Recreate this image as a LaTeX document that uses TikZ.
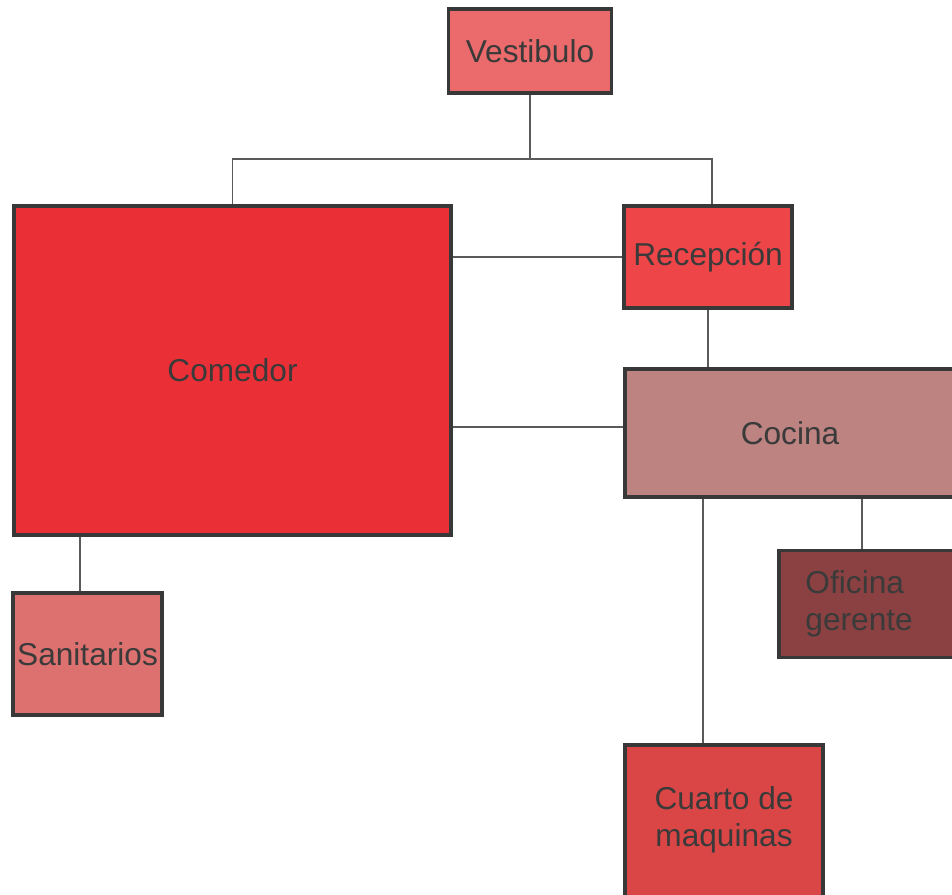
\documentclass[tikz,border=0pt]{standalone}
\usepackage{fontspec}
\setmainfont{Liberation Sans}
\usetikzlibrary{calc}
\definecolor{edge}{HTML}{383838}
\definecolor{ink}{HTML}{3A3A3A}
\definecolor{wire}{HTML}{5A5A5A}
\definecolor{cVest}{HTML}{EB6A6B}
\definecolor{cCom}{HTML}{EA3036}
\definecolor{cRec}{HTML}{EE4548}
\definecolor{cCoc}{HTML}{BC8381}
\definecolor{cOfi}{HTML}{8B4141}
\definecolor{cSan}{HTML}{DD716F}
\definecolor{cCua}{HTML}{DA4646}
\tikzset{
  room/.style={draw=edge, line width=2.5pt, rectangle, inner sep=0pt, align=center,
    text=ink, font=\fontsize{22.5}{26}\selectfont},
  link/.style={draw=wire, line width=1pt}
}
\begin{document}
\begin{tikzpicture}[x=0.025cm, y=-0.025cm]
  \useasboundingbox (0,0) rectangle (952,894);
  \clip (0,0) rectangle (952,894);
  % rooms
  \node[room, fill=cVest, minimum width=4.075cm, minimum height=2.1cm] (vest) at (530,51) {Vestibulo};
  \node[room, fill=cCom, minimum width=10.925cm, minimum height=8.225cm] (comedor) at (232.5,370.5) {Comedor};
  \node[room, fill=cRec, minimum width=4.2cm, minimum height=2.55cm] (recep) at (708,257) {Recepción};
  \node[room, fill=cCoc, minimum width=8.25cm, minimum height=3.2cm] (cocina) at (790,433) {Cocina};
  \node[room, fill=cOfi, minimum width=4.525cm, minimum height=2.675cm, align=left,
    text width=3.2cm, inner xsep=0.65cm] (oficina) at (869.5,604) {Oficina\\gerente};
  \node[room, fill=cSan, minimum width=3.725cm, minimum height=3.05cm] (sanit) at (87.5,654) {Sanitarios};
  \node[room, fill=cCua, minimum width=4.95cm, minimum height=4cm] (cuarto) at (724,825) {};
  \node[text=ink, font=\fontsize{22.5}{26}\selectfont, align=center] (cuartotxt) at (724,820) {Cuarto de\\maquinas};
  % links
  \coordinate (split) at (530,159);
  \draw[link] (vest.south) -- (split);
  \draw[link] (comedor.north) |- (split) -| ($(recep.north)+(4,0)$);
  \draw[link] (recep.west) -- (recep.west -| comedor.east);
  \draw[link] (recep.south) -- (recep.south |- cocina.north);
  \draw[link] ($(cocina.west)+(0,-6)$) -- ($(cocina.west -| comedor.east)+(0,-6)$);
  \draw[link] (cocina.south -| 862,0) -- (oficina.north -| 862,0);
  \draw[link] (cocina.south -| 703,0) -- (cuarto.north -| 703,0);
  \draw[link] (comedor.south -| 80,0) -- (sanit.north -| 80,0);
\end{tikzpicture}
\end{document}
